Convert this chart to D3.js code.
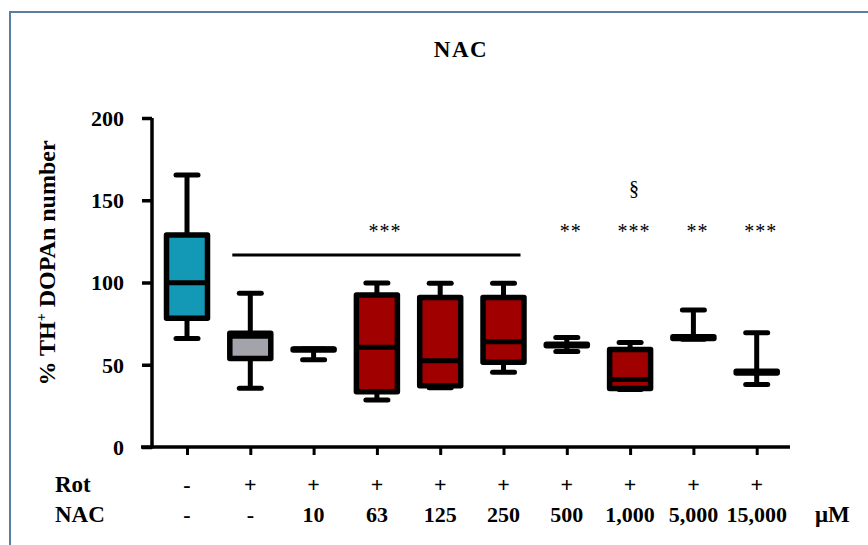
<!DOCTYPE html>
<html><head><meta charset="utf-8">
<script src="https://cdn.jsdelivr.net/npm/d3@7"></script>
<style>
body{margin:0;background:#fff}
text{font-family:"Liberation Serif","Times New Roman",serif}
</style>
</head><body><svg id="c" width="868" height="545"></svg>
<script>
// ---- data ----
const groups     = ["ctrl","rot","10","63","125","250","500","1000","5000","15000"];
const rotLabels  = ["-","+","+","+","+","+","+","+","+","+"];
const nacLabels  = ["-","-","10","63","125","250","500","1,000","5,000","15,000"];
const mins       = [66,   35.7, 53,   28.6, 36,   45.4, 58,   35,   65.5, 38];
const q1s        = [78.2, 53.8, 59,   33.6, 37.3, 51.5, 61.5, 35.5, 66,   45];
const medians    = [99.8, 67.3, 59.5, 60.6, 52.5, 64,   62,   41,   66.5, 45.5];
const q3s        = [128.9,69.2, 59.6, 92.4, 90.9, 90.9, 62.5, 59.2, 67,   46];
const maxs       = [165.3,93.4, 59.6, 99.7, 99.5, 99.5, 66.5, 63.6, 83.3, 69.5];
const groupType  = ["control","rotenone","nac","nac","nac","nac","nac","nac","nac","nac"];
const stars      = ["","","","","","","**","***","**","***"];
const daggers    = ["","","","","","","","§","",""];
const bracketFrom = "rot", bracketTo = "250", bracketLabel = "***";
const yTicks     = [0,50,100,150,200];

// ---- drawing ----
const svg = d3.select("#c");
const colors = {control:"#1399b5", rotenone:"#a3a3ab", nac:"#a10000"};

svg.append("rect").attr("x",10).attr("y",12).attr("width",900).attr("height",600)
  .attr("fill","none").attr("stroke","#5a7da0").attr("stroke-width",2);

const x = d3.scalePoint().domain(groups).range([187, 756.7]);
const y = d3.scaleLinear().domain([0,200]).range([447,118]);

// title
svg.append("text").attr("x",461).attr("y",57).attr("text-anchor","middle")
  .attr("font-size",23).attr("font-weight","bold").attr("letter-spacing",1.5).text("NAC");

// y axis
const yAxis = svg.append("g").attr("transform","translate(152,0)")
  .call(d3.axisLeft(y).tickValues(yTicks).tickSize(10).tickSizeOuter(0).tickPadding(18));
yAxis.select(".domain").attr("stroke","#000").attr("stroke-width",3.5)
  .attr("d",`M0,${y(200)}V${y(0)+1.5}`);
yAxis.selectAll(".tick line").attr("stroke","#000").attr("stroke-width",3.5);
yAxis.selectAll(".tick text").attr("font-size",22).attr("font-weight","bold")
  .attr("fill","#000").attr("font-family","Liberation Serif, serif").attr("dy","0.34em");

// x axis
const xAxis = svg.append("g").attr("transform",`translate(0,${y(0)})`)
  .call(d3.axisBottom(x).tickSize(8).tickFormat(""));
xAxis.select(".domain").attr("d","M141,0H790").attr("stroke","#000").attr("stroke-width",3.5);
xAxis.selectAll(".tick line").attr("stroke","#000").attr("stroke-width",3);

// y label
svg.append("text").attr("transform","translate(55,263) rotate(-90)")
  .attr("text-anchor","middle").attr("font-size",24).attr("font-weight","bold")
  .call(t=>{
    t.append("tspan").text("% TH");
    t.append("tspan").attr("font-size",14).attr("dy",-9).text("+");
    t.append("tspan").attr("dy",9).text(" DOPAn number");
  });

// boxes
const bw = 41, capW = 22;
const g = svg.append("g");
groups.forEach((k,i)=>{
  const cx = x(k);
  g.append("line").attr("x1",cx).attr("x2",cx).attr("y1",y(maxs[i])).attr("y2",y(q3s[i]))
    .attr("stroke","#000").attr("stroke-width",5);
  g.append("line").attr("x1",cx).attr("x2",cx).attr("y1",y(q1s[i])).attr("y2",y(mins[i]))
    .attr("stroke","#000").attr("stroke-width",5);
  [maxs[i],mins[i]].forEach(v=>{
    g.append("line").attr("x1",cx-capW/2).attr("x2",cx+capW/2).attr("y1",y(v)).attr("y2",y(v))
      .attr("stroke","#000").attr("stroke-width",5).attr("stroke-linecap","round");
  });
  g.append("rect").attr("x",cx-bw/2).attr("width",bw)
    .attr("y",y(q3s[i])).attr("height",Math.max(0.5,y(q1s[i])-y(q3s[i])))
    .attr("fill",colors[groupType[i]]).attr("stroke","#000").attr("stroke-width",5.5)
    .attr("stroke-linejoin","round");
  g.append("line").attr("x1",cx-bw/2).attr("x2",cx+bw/2).attr("y1",y(medians[i])).attr("y2",y(medians[i]))
    .attr("stroke","#000").attr("stroke-width",5);
  if (stars[i]) svg.append("text").attr("x",cx+4).attr("y",238).attr("text-anchor","middle")
    .attr("font-size",20).attr("letter-spacing",1).text(stars[i]);
  if (daggers[i]) svg.append("text").attr("x",cx+4).attr("y",195).attr("text-anchor","middle")
    .attr("font-size",20).text(daggers[i]);
  svg.append("text").attr("x",cx).attr("y",492).attr("text-anchor","middle")
    .attr("font-size",22).attr("font-weight","bold").text(rotLabels[i]);
  svg.append("text").attr("x",cx).attr("y",522).attr("text-anchor","middle")
    .attr("font-size",22).attr("font-weight","bold").text(nacLabels[i]);
});

// bracket line
const bx1 = x(bracketFrom)-18, bx2 = x(bracketTo)+17;
svg.append("line").attr("x1",bx1).attr("x2",bx2).attr("y1",255).attr("y2",255)
  .attr("stroke","#000").attr("stroke-width",3);
svg.append("text").attr("x",(x("63")+8)).attr("y",238).attr("text-anchor","middle")
  .attr("font-size",20).attr("letter-spacing",1).text(bracketLabel);

// row labels
svg.append("text").attr("x",55).attr("y",492).attr("font-size",23).attr("font-weight","bold").text("Rot");
svg.append("text").attr("x",55).attr("y",522).attr("font-size",23).attr("font-weight","bold").text("NAC");
svg.append("text").attr("x",815).attr("y",522).attr("font-size",23).attr("font-weight","bold").text("μM");
</script>
</body></html>
